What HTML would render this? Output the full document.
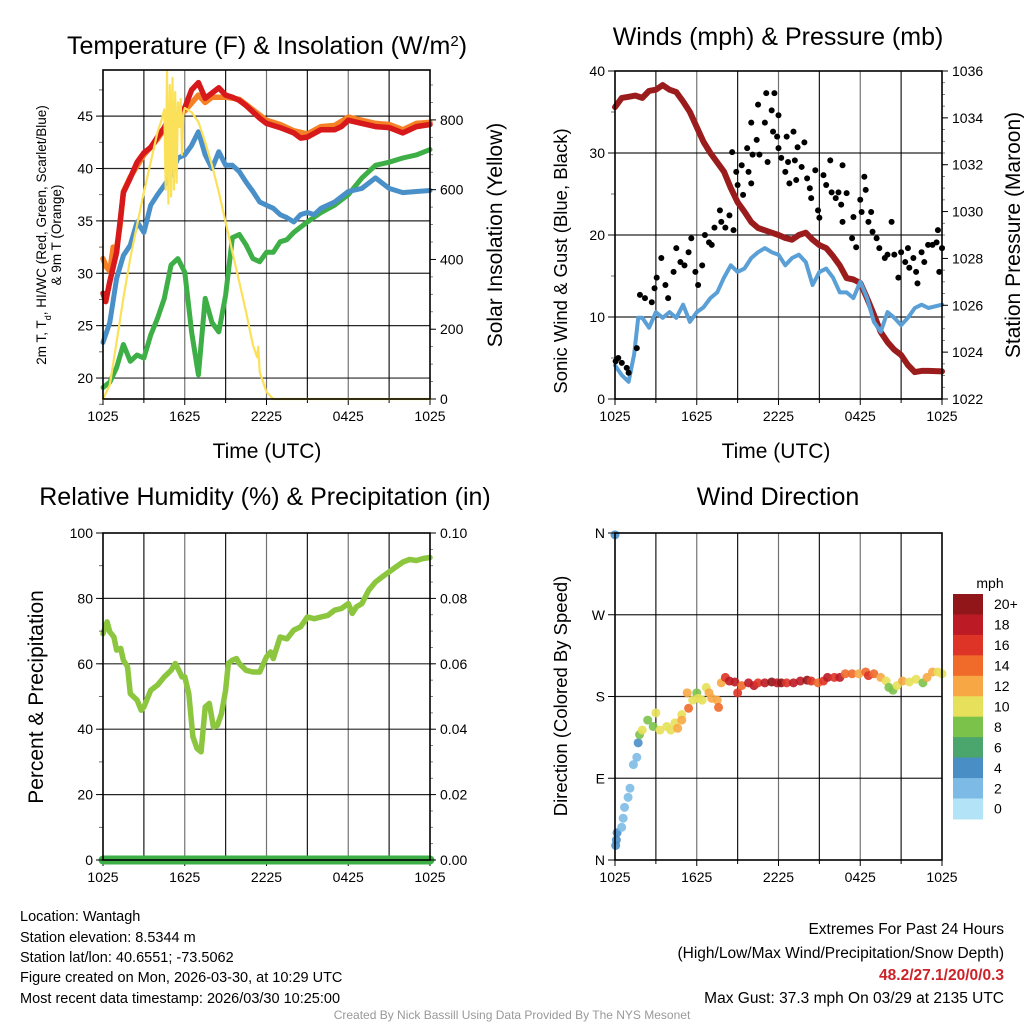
<!DOCTYPE html>
<html><head><meta charset="utf-8">
<style>
html,body{margin:0;padding:0;background:#fff;}
svg{display:block;font-family:"Liberation Sans",sans-serif;}
</style></head>
<body>
<svg id="chart" width="1024" height="1024" viewBox="0 0 1024 1024" xmlns="http://www.w3.org/2000/svg">
<rect width="1024" height="1024" fill="#fff"/>
<g id="layer"></g>
<!-- titles -->
<text x="267" y="54" font-size="25" text-anchor="middle">Temperature (F) &amp; Insolation (W/m<tspan baseline-shift="super" font-size="15">2</tspan>)</text>
<text x="778" y="45" font-size="25" text-anchor="middle">Winds (mph) &amp; Pressure (mb)</text>
<text x="265" y="505" font-size="25" text-anchor="middle">Relative Humidity (%) &amp; Precipitation (in)</text>
<text x="778" y="505" font-size="25" text-anchor="middle">Wind Direction</text>
<text x="267" y="458" font-size="21" text-anchor="middle">Time (UTC)</text>
<text x="776" y="458" font-size="21" text-anchor="middle">Time (UTC)</text>
<g font-size="13.5" text-anchor="middle">
<text transform="translate(46,235) rotate(-90)">2m T, T<tspan baseline-shift="sub" font-size="9">d</tspan>, HI/WC (Red, Green, Scarlet/Blue)</text>
<text transform="translate(61,235) rotate(-90)">&amp; 9m T (Orange)</text>
</g>
<text transform="translate(502,235) rotate(-90)" font-size="21" text-anchor="middle">Solar Insolation (Yellow)</text>
<text transform="translate(567,261) rotate(-90)" font-size="18.5" text-anchor="middle">Sonic Wind &amp; Gust (Blue, Black)</text>
<text transform="translate(1020,235) rotate(-90)" font-size="21" text-anchor="middle">Station Pressure (Maroon)</text>
<text transform="translate(43,697) rotate(-90)" font-size="21" text-anchor="middle">Percent &amp; Precipitation</text>
<text transform="translate(567,696) rotate(-90)" font-size="18.5" text-anchor="middle">Direction (Colored By Speed)</text>
<text x="990" y="588" font-size="14" text-anchor="middle">mph</text>
<g font-size="14.5">
<text x="20" y="921">Location: Wantagh</text>
<text x="20" y="942">Station elevation: 8.5344 m</text>
<text x="20" y="962">Station lat/lon: 40.6551; -73.5062</text>
<text x="20" y="982">Figure created on Mon, 2026-03-30, at 10:29 UTC</text>
<text x="20" y="1003">Most recent data timestamp: 2026/03/30 10:25:00</text>
</g>
<g font-size="15.5" text-anchor="end">
<text x="1004" y="934">Extremes For Past 24 Hours</text>
<text x="1004" y="958">(High/Low/Max Wind/Precipitation/Snow Depth)</text>
<text x="1004" y="980" fill="#cc2229" font-weight="bold">48.2/27.1/20/0/0.3</text>
<text x="1004" y="1003">Max Gust: 37.3 mph On 03/29 at 2135 UTC</text>
</g>
<text x="512" y="1019" font-size="12" fill="#999" text-anchor="middle">Created By Nick Bassill Using Data Provided By The NYS Mesonet</text>
</svg>
<script>
// ---------- data ----------
const xTickLabels = ["1025","1625","2225","0425","1025"];
const tempTicks = [20,25,30,35,40,45];
const solarTicks = [0,200,400,600,800];
const windTicks = [0,10,20,30,40];
const presTicks = [1022,1024,1026,1028,1030,1032,1034,1036];
const rhTicks = [0,20,40,60,80,100];
const precipTicks = ["0.00","0.02","0.04","0.06","0.08","0.10"];
const dirTickLabels = ["N","E","S","W","N"];
const speedBinLabels = ["0","2","4","6","8","10","12","14","16","18","20+"];

const redHours = [0,0.2,0.5,1,1.5,2,2.5,3,3.5,4,4.5,5,5.5,6,6.5,7,7.5,8,8.5,9,9.5,10,10.5,11,11.5,12,13,14,14.5,15,16,17,17.5,18,19,20,21,22,22.5,23,24];
const redVals  = [28.1,27.3,29.2,32.0,37.7,39.1,40.6,41.5,42.0,43.0,43.9,45.3,45.1,45.8,47.5,48.2,46.7,47.2,47.7,47.0,46.8,46.5,46.0,45.4,44.8,44.3,43.9,43.4,42.9,43.0,43.7,43.7,44.0,44.6,44.3,44.0,43.9,43.4,43.7,44.0,44.2];
const orangeHours = [0,0.25,0.5,0.75,1,1.25,1.5,2,3,4,5,6,7,7.5,8,9,10,11,12,13,14,15,16,17,18,19,20,21,22,23,24];
const orangeVals  = [31.4,30.6,30.2,32.5,32.4,34.5,37.8,39.2,41.3,42.8,44.8,45.5,47.0,46.3,46.8,46.8,46.6,45.6,44.6,44.2,43.6,43.3,44.0,44.1,44.9,44.6,44.3,44.2,43.7,44.3,44.4];
const blueHours = [0,0.5,1,1.5,2,2.5,3,3.5,4,4.5,5,5.5,6,6.5,7,7.5,8,8.5,9,9.5,10,10.5,11,11.5,12,12.5,13,13.5,14,14.5,15,15.5,16,17,18,19,20,21,22,23,24];
const blueVals  = [23.4,25.3,29.5,31.7,32.7,34.9,33.9,36.5,37.5,38.4,39.4,41.0,41.3,42.2,43.5,41.3,40.0,41.6,40.3,40.3,39.7,38.7,37.8,36.8,36.5,36.2,35.6,35.3,34.9,35.6,35.8,35.6,36.2,36.8,37.8,38.1,39.1,38.1,37.7,37.8,37.9];
const greenHours = [0,0.5,1,1.5,2,2.5,3,3.5,4,4.5,5,5.5,6,6.5,7,7.5,8,8.5,9,9.5,10,10.5,11,11.5,12,12.5,13,13.5,14,15,16,17,18,19,20,21,22,23,24];
const greenVals  = [19.1,19.6,21.0,23.2,21.6,22.2,21.9,24.1,25.7,27.6,30.8,31.4,30.1,24.4,20.3,27.6,25.3,24.4,27.9,33.4,33.7,32.7,31.4,31.1,32.0,32.0,33.0,33.2,33.9,34.9,35.8,36.5,37.5,39.1,40.3,40.6,41.0,41.3,41.8];
const solarHours = [0,0.5,1,1.5,2,2.5,3,3.5,4,4.3,4.5,4.6,4.7,4.8,4.9,5.0,5.1,5.2,5.3,5.4,5.5,5.6,5.7,5.8,5.9,6,6.5,7,7.5,8,8.5,9,9.5,10,10.5,11,11.3,11.4,11.5,12,12.5,24];
const solarVals  = [0,40,163,290,404,499,593,679,765,800,830,600,940,560,900,580,920,600,880,620,850,780,860,700,820,834,822,794,736,670,593,507,421,335,249,155,120,150,77,20,0,0];
const presHours = [0,0.5,1,1.5,2,2.5,3,3.5,4,4.5,5,5.5,6,6.5,7,7.5,8,8.5,9,9.5,10,10.5,11,11.5,12,12.5,13,13.5,14,14.5,15,15.5,16,16.5,17,17.5,18,18.5,19,19.5,20,20.5,21,21.5,22,22.5,23,24];
const presVals  = [1034.46,1034.85,1034.9,1034.95,1034.85,1035.15,1035.2,1035.4,1035.2,1035.1,1034.7,1034.25,1033.6,1032.97,1032.5,1032.1,1031.7,1031.0,1030.4,1030.0,1029.55,1029.3,1029.2,1029.1,1029.0,1028.87,1028.8,1029.0,1029.1,1028.8,1028.57,1028.44,1028.1,1027.7,1027.16,1027.1,1026.95,1026.3,1025.6,1024.86,1024.43,1024.1,1023.88,1023.45,1023.15,1023.2,1023.2,1023.18];
const windHours = [0,0.5,1,1.4,1.7,2,2.5,3,3.5,4,4.5,5,5.5,6,6.5,7,7.5,8,8.5,9,9.5,10,10.5,11,11.5,12,12.5,13,13.5,14,14.5,15,15.5,16,16.5,17,17.5,18,18.5,19,19.5,20,20.5,21,21.5,22,22.5,23,24];
const windVals  = [4.1,2.9,2.1,5.4,9.9,9.9,8.7,10.6,9.9,10.6,9.9,11.5,9.4,10.6,11.2,12.3,13.0,14.8,16.3,15.5,15.9,17.2,17.9,18.4,17.9,17.6,16.3,17.2,17.6,16.7,13.9,15.5,15.9,14.8,13.0,13.0,12.3,14.3,12.3,9.4,8.2,10.6,9.9,9.0,9.9,11.1,11.5,11.1,11.5];
const gustHours = [0.05,0.24,0.5,0.86,1.0,1.6,1.83,2.2,2.7,3.06,2.9,3.4,3.7,3.9,4.3,4.5,4.8,5.1,5.4,5.6,5.9,6.1,6.4,6.6,6.9,7.1,7.3,7.7,7.8,8.1,8.4,8.7,8.6,8.9,9.0,9.3,9.4,9.7,9.8,10.0,10.0,10.1,10.4,10.5,10.6,11.0,11.1,11.2,11.5,11.6,11.7,11.9,12.0,12.0,12.2,12.5,12.6,12.7,12.8,13.1,13.2,13.3,13.4,13.7,13.9,14.1,14.3,14.4,14.7,14.9,15.0,15.3,15.5,15.8,15.9,16.2,16.4,16.6,16.7,16.7,17.0,17.4,17.5,17.7,18.0,18.1,18.3,18.4,18.6,18.8,18.9,19.2,19.4,19.8,20.0,20.3,20.5,20.8,21.0,21.3,21.5,21.6,21.9,22.1,22.2,22.5,22.7,22.98,23.3,23.6,23.7,23.8,24.0];
const gustVals  = [4.6,5.0,4.4,3.8,3.2,6.2,12.7,12.3,11.8,14.8,13.5,17.2,13.9,12.3,15.5,18.4,16.7,16.3,17.9,19.6,15.5,13.9,16.3,20.0,19.1,18.8,20.9,23.0,21.6,20.9,22.4,20.6,30.1,27.7,26.1,28.5,24.9,30.6,27.7,26.3,33.7,29.8,31.6,35.9,29.8,33.7,37.3,28.9,35.2,32.6,37.3,32.0,34.6,30.6,29.4,27.7,32.0,28.9,26.3,32.6,29.1,26.7,30.7,28.3,31.3,26.9,25.7,24.5,27.9,23.0,22.1,27.3,26.1,29.1,25.2,24.5,25.2,23.7,28.5,21.6,25.1,19.6,22.2,18.5,24.3,22.8,27.1,25.5,21.6,22.8,20.4,19.6,18.4,17.2,17.6,21.6,17.6,14.8,17.9,16.7,18.4,16.0,17.2,15.5,14.1,17.9,16.7,18.8,18.8,19.1,20.6,15.5,18.4];
const rhHours = [0,0.3,0.5,0.8,1,1.3,1.5,1.8,2,2.5,2.8,3,3.5,4,4.5,5,5.3,5.5,5.8,6,6.3,6.6,6.9,7.2,7.5,7.8,8.1,8.4,8.7,9,9.2,9.5,9.8,10,10.5,11,11.5,12,12.3,12.5,13,13.5,14,14.5,15,15.5,16,16.5,17,17.5,18,18.3,18.6,19,19.5,20,20.5,21,21.5,22,22.5,23,23.5,24];
const rhVals  = [69.2,72.8,69.8,68.2,64.2,64.7,61.1,59.1,50.9,48.9,45.8,46.8,51.9,53.5,56.0,58.0,60.1,58.6,56.0,56.0,50.9,37.7,34.1,33.1,46.8,47.9,40.7,41.2,44.8,51.9,60.1,61.1,61.6,60.1,58.0,57.5,57.5,62.1,63.6,61.6,68.2,67.6,70.3,71.3,74.3,73.8,74.3,74.8,76.4,76.9,78.4,75.4,77.4,78.4,82.5,85.0,86.6,88.1,89.6,91.1,91.9,91.6,92.2,92.5];
const precipHours = [0,24];
const precipVals  = [0,0];
const dirHours = [0,0.05,0.1,0.15,0.49,0.6,0.7,0.96,1.1,1.35,1.6,1.7,1.8,2.0,2.4,2.8,3.0,3.3,3.8,4.1,4.4,4.6,4.9,4.9,5.3,5.4,5.7,6.0,6.1,6.4,6.7,6.9,7.1,7.5,7.6,7.8,8.1,8.4,8.8,9.0,9.3,9.8,10.2,10.5,11.0,11.5,11.9,12.2,12.6,13.1,13.6,14.1,14.4,14.9,15.3,15.6,16.1,16.5,16.9,17.4,17.9,18.4,18.6,19.0,19.5,19.9,20.1,20.4,20.7,21.1,21.6,22.1,22.6,22.9,23.3,23.7,24.0];
const dirVals  = [358,16,22,30,36,46,58,69,79,105,113,129,138,143,154,147,162,143,147,143,151,145,160,154,184,167,176,184,178,176,190,184,178,176,168,195,201,197,196,184,192,195,192,195,195,196,195,195,195,195,197,198,197,195,197,201,201,201,205,205,205,207,203,205,201,197,190,187,192,197,196,199,195,201,207,207,205];
const dirSpeeds = [5,5,5,5,3,3,3,3,3,3,3,5,9,11,9,9,11,11,11,11,11,13,11,13,13,15,11,9,11,11,11,13,13,13,15,13,17,19,19,17,15,19,19,17,19,21,19,21,17,19,19,21,17,15,17,19,17,19,15,15,13,15,17,15,13,11,9,9,11,13,11,11,9,13,13,11,11];

// ---------- helpers ----------
const NS = "http://www.w3.org/2000/svg";
const layer = document.getElementById("layer");
function el(tag, attrs, parent) {
  const e = document.createElementNS(NS, tag);
  for (const k in attrs) e.setAttribute(k, attrs[k]);
  (parent || layer).appendChild(e);
  return e;
}
function lin(d0, d1, r0, r1) { return v => r0 + (v - d0) * (r1 - r0) / (d1 - d0); }

const panels = {
  p1: {x0:103, x1:430, y0:70, y1:399},
  p2: {x0:615, x1:942, y0:71, y1:399},
  p3: {x0:103, x1:430, y0:533, y1:860},
  p4: {x0:615, x1:942, y0:533, y1:860}
};
const sx = {};
for (const k in panels) sx[k] = lin(0, 24, panels[k].x0, panels[k].x1);
const yT = lin(18, 49.4, 399, 70);
const yS = lin(0, 943, 399, 70);
const yW = lin(0, 40, 399, 71);
const yP = lin(1022, 1036, 399, 71);
const yR = lin(0, 100, 860, 533);
const yPr = lin(0, 0.1, 860, 533);
const yD = lin(0, 360, 860, 533);

function gridAndFrame(name, p, hLines) {
  const g = el("g", {});
  
  
  for (let h = 3; h < 24; h += 3) {
    const x = sx[name](h);
    el("line", {x1:x, x2:x, y1:p.y0, y2:p.y1, stroke:"#000", "stroke-width":1.2, "stroke-opacity": (h % 6 === 0 ? 0.55 : 0.9)}, g);
  }
  hLines.forEach(y => el("line", {x1:p.x0, x2:p.x1, y1:y, y2:y, stroke:"#000", "stroke-width":1.2, "stroke-opacity":0.85}, g));
  for (let h = 0; h <= 24; h += 3) {
    const x = sx[name](h);
    el("line", {x1:x, x2:x, y1:p.y1, y2:p.y1 + (h % 6 === 0 ? 6 : 4), stroke:"#000", "stroke-width":1}, g);
  }
}
function frame(name, p) {
  const f = el("rect", {x:p.x0, y:p.y0, width:p.x1 - p.x0, height:p.y1 - p.y0, fill:"none", stroke:"#000", "stroke-width":1.6});
  
  
}
function xLabels(name, p) {
  xTickLabels.forEach((t, i) => {
    const e = el("text", {x:sx[name](i * 6), y:p.y1 + 22, "font-size":14, "text-anchor":"middle"});
    e.textContent = t;
    
    
  });
}
function leftAxis(name, p, ticks, scale, labels, minorStep, minorFrom, minorTo) {
  ticks.forEach((v, i) => {
    const y = scale(v);
    el("line", {x1:p.x0 - 7, x2:p.x0, y1:y, y2:y, stroke:"#000", "stroke-width":1});
    const e = el("text", {x:p.x0 - 10, y:y + 5, "font-size":14, "text-anchor":"end"});
    e.textContent = labels ? labels[i] : v;
    
    
  });
  if (minorStep) for (let v = minorFrom; v <= minorTo + 1e-9; v += minorStep) {
    const y = scale(v);
    el("line", {x1:p.x0 - 4, x2:p.x0, y1:y, y2:y, stroke:"#000", "stroke-width":0.8, "stroke-opacity":0.7});
  }
}
function rightAxis(name, p, ticks, scale, labels, minorStep, minorFrom, minorTo) {
  ticks.forEach((v, i) => {
    const y = scale(v);
    el("line", {x1:p.x1, x2:p.x1 + 6, y1:y, y2:y, stroke:"#000", "stroke-width":1});
    const e = el("text", {x:p.x1 + 10, y:y + 5, "font-size":14, "text-anchor":"start"});
    e.textContent = labels ? labels[i] : v;
    
    
  });
  if (minorStep) for (let v = minorFrom; v <= minorTo + 1e-9; v += minorStep) {
    const y = scale(v);
    el("line", {x1:p.x1, x2:p.x1 + 3, y1:y, y2:y, stroke:"#000", "stroke-width":0.8, "stroke-opacity":0.6});
  }
}
function series(name, hours, vals, xs, ys, color, width, opacity) {
  let d = "";
  hours.forEach((h, i) => { d += (i ? "L" : "M") + xs(h).toFixed(1) + "," + ys(vals[i]).toFixed(1); });
  const e = el("path", {d:d, fill:"none", stroke:color, "stroke-width":width, "stroke-linejoin":"round", "stroke-linecap":"round", "stroke-opacity": opacity || 1});
  
  
}

// ---------- panel 1 ----------
const P1 = panels.p1;
gridAndFrame("p1", P1, tempTicks.map(yT));
series("series-9m-temperature", orangeHours, orangeVals, sx.p1, yT, "#f58025", 5.5);
series("series-2m-temperature", redHours, redVals, sx.p1, yT, "#d7191c", 5.5);
series("series-dewpoint", greenHours, greenVals, sx.p1, yT, "#3daf46", 5);
series("series-wind-chill", blueHours, blueVals, sx.p1, yT, "#4a90c8", 5);
series("series-solar-insolation", solarHours, solarVals, sx.p1, yS, "#fbe15a", 2.2);
frame("p1", P1);
leftAxis("p1", P1, tempTicks, yT, null, 2.5, 17.5, 47.5);
rightAxis("p1", P1, solarTicks, yS, null, 50, 0, 900);
xLabels("p1", P1);

// ---------- panel 2 ----------
const P2 = panels.p2;
gridAndFrame("p2", P2, [0,10,20,30].map(yW));
series("series-pressure", presHours, presVals, sx.p2, yP, "#9b1c1c", 6);
series("series-sonic-wind", windHours, windVals, sx.p2, yW, "#5a9fd6", 4);
gustHours.forEach((h, i) => {
  const c = el("circle", {cx:sx.p2(h), cy:yW(gustVals[i]), r:3, fill:"#000"});
  
  
});
frame("p2", P2);
leftAxis("p2", P2, windTicks, yW, null, 5, 5, 35);
rightAxis("p2", P2, presTicks, yP, null, 0.5, 1022, 1036);
xLabels("p2", P2);

// ---------- panel 3 ----------
const P3 = panels.p3;
gridAndFrame("p3", P3, [20,40,60,80].map(yR));
series("series-relative-humidity", rhHours, rhVals, sx.p3, yR, "#8cc63f", 5.5);
series("series-precipitation", precipHours, precipVals, sx.p3, yPr, "#3daf46", 9);
frame("p3", P3);
leftAxis("p3", P3, rhTicks, yR, null, 10, 10, 90);
rightAxis("p3", P3, [0,0.02,0.04,0.06,0.08,0.1], yPr, precipTicks, 0.005, 0, 0.1);
xLabels("p3", P3);

// ---------- panel 4 ----------
const P4 = panels.p4;
gridAndFrame("p4", P4, [90,180,270].map(yD));
const binColors = ["#b3e3f7","#7dbbe6","#4a8ec6","#4aa66d","#7bc24b","#e7e05a","#f7a845","#f06a2a","#de3427","#bc1b25","#901619"];
dirHours.forEach((h, i) => {
  const bin = Math.min(10, Math.max(0, Math.floor(dirSpeeds[i] / 2)));
  const c = el("circle", {cx:sx.p4(h), cy:yD(dirVals[i]), r:4.5, fill:binColors[bin], "fill-opacity":0.9});
  
  
});
frame("p4", P4);
leftAxis("p4", P4, [0,90,180,270,360], yD, dirTickLabels, 0, 0, 0);
xLabels("p4", P4);

// colorbar
const cbTop = 594, cbH = 20.45;
speedBinLabels.forEach((lab, i) => {
  const idx = 10 - i;
  const y = cbTop + i * cbH;
  const r = el("rect", {x:953, y:y, width:30, height:cbH + 0.5, fill:binColors[idx]});
  
  
  const t = el("text", {x:994, y:y + cbH / 2 + 5, "font-size":14});
  t.textContent = speedBinLabels[idx];
  
  
});
</script>
</body></html>
